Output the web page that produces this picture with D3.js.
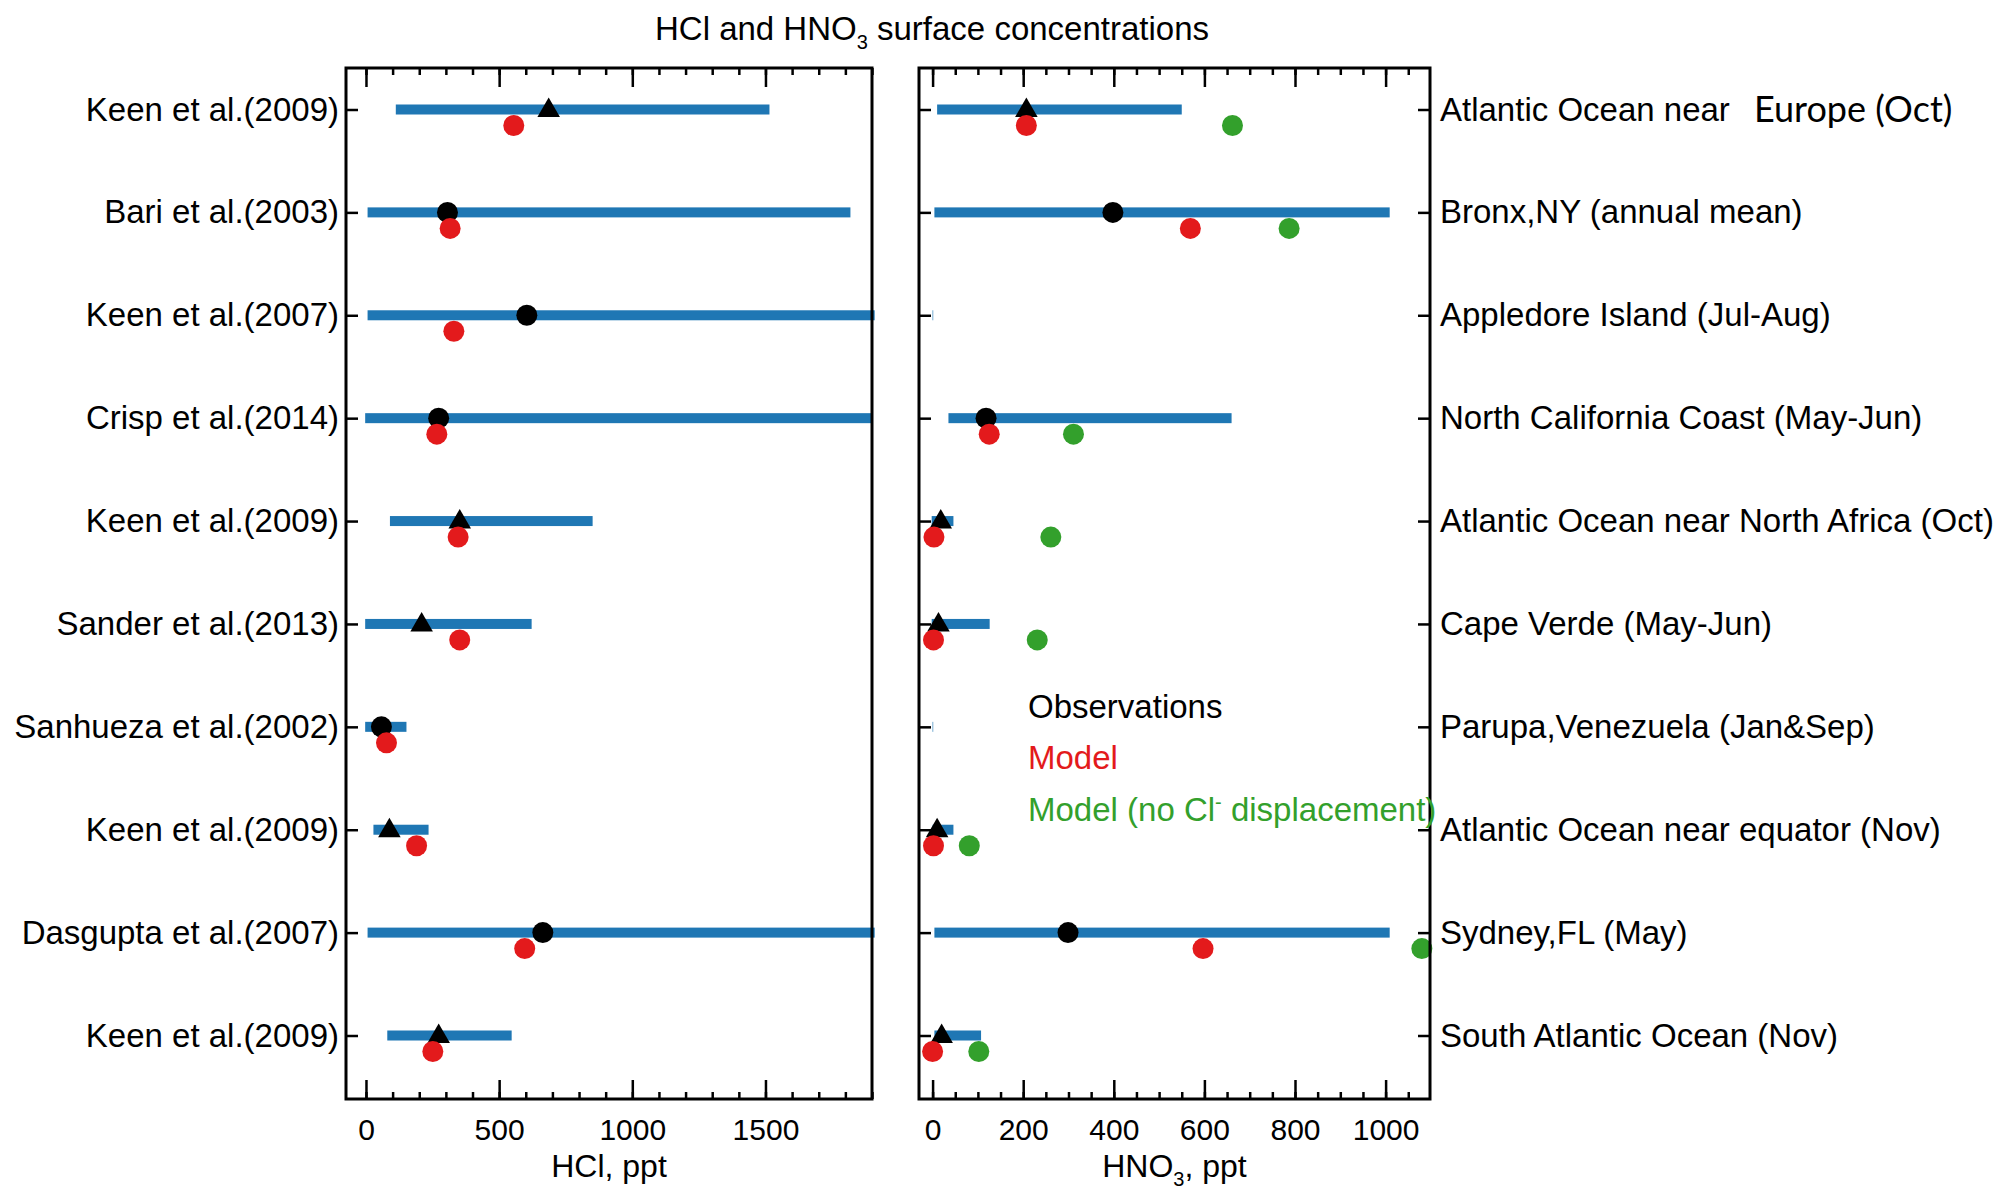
<!DOCTYPE html>
<html>
<head>
<meta charset="utf-8">
<script src="https://cdn.jsdelivr.net/npm/d3@7"></script>
<style>
  body { margin: 0; background: #fff; }
  text { font-family: "Liberation Sans", Arial, sans-serif; }
</style>
</head>
<body>
<svg id="chart" width="1997" height="1189"></svg>
<script>
// row labels
const leftLabels = ["Keen et al.(2009)", "Bari et al.(2003)", "Keen et al.(2007)", "Crisp et al.(2014)",
    "Keen et al.(2009)", "Sander et al.(2013)", "Sanhueza et al.(2002)", "Keen et al.(2009)",
    "Dasgupta et al.(2007)", "Keen et al.(2009)"];
const rightLabels = ["Atlantic Ocean near", "Bronx,NY (annual mean)", "Appledore Island (Jul-Aug)",
    "North California Coast (May-Jun)", "Atlantic Ocean near North Africa (Oct)", "Cape Verde (May-Jun)",
    "Parupa,Venezuela (Jan&Sep)", "Atlantic Ocean near equator (Nov)", "Sydney,FL (May)",
    "South Atlantic Ocean (Nov)"];
const extraLabel = "Europe (Oct)";
const obsShape = ["tri", "circle", "circle", "circle", "tri", "tri", "circle", "tri", "circle", "tri"];

// HCl, ppt
const hclLow = [112, 6, 6, -3, 90, -3, -3, 28, 6, 80];
const hclHigh = [1515, 1819, 1910, 1900, 851, 622, 152, 235, 1910, 547];
const hclObs = [686, 306, 604, 273, 352, 209, 58, 88, 664, 273];
const hclModel = [555, 316, 330, 266, 346, 352, 77, 190, 596, 251];

// HNO3, ppt
const hnoLow = [10, 4, 0, 35, -2, -2, 0, 0, 4, 4];
const hnoHigh = [550, 1009, 1, 660, 46, 126, 1, 46, 1009, 107];
const hnoObs = [207, 398, null, 118, 18, 13, null, 10, 299, 20];
const hnoModel = [207, 569, null, 125, 3, 2, null, 2, 597, 0];
const hnoNoDisp = [662, 787, null, 311, 261, 231, null, 81, 1080, 102];

const hclTicks = [0, 500, 1000, 1500];
const hclMinor = d3.range(0, 1901, 100);
const hnoTicks = [0, 200, 400, 600, 800, 1000];
const hnoMinor = d3.range(0, 1099, 50);

const blue = '#1f77b4', red = '#e31a1c', green = '#33a02c';

const svg = d3.select('#chart');
const plotTop = 68, plotBottom = 1099;

const y = d3.scalePoint().domain(d3.range(10)).range([109.5, 1035.5]);
const xL = d3.scaleLinear().domain([-75, 1900]).range([346, 872]);
const xR = d3.scaleLinear().domain([-30, 1098]).range([919, 1430]);

function drawXAxes(x, major, minor) {
    const g = svg.append('g');
    // minor ticks
    g.append('g').attr('transform', `translate(0,${plotBottom})`)
        .call(d3.axisBottom(x).tickValues(minor).tickSize(-7).tickFormat(''));
    g.append('g').attr('transform', `translate(0,${plotTop})`)
        .call(d3.axisTop(x).tickValues(minor).tickSize(-7).tickFormat(''));
    // major ticks
    g.append('g').attr('transform', `translate(0,${plotBottom})`)
        .call(d3.axisBottom(x).tickValues(major).tickSize(-19).tickPadding(20).tickFormat(d3.format('d')))
        .call(a => a.selectAll('text').attr('font-size', 30).attr('fill', '#000')
            .style('font-family', '"Liberation Sans", Arial, sans-serif'));
    g.append('g').attr('transform', `translate(0,${plotTop})`)
        .call(d3.axisTop(x).tickValues(major).tickSize(-19).tickFormat(''));
    g.selectAll('.domain').remove();
    g.selectAll('.tick line').attr('stroke', '#000').attr('stroke-width', 2.5);
    return g;
}

function drawBars(x, lo, hi) {
    svg.append('g').selectAll('rect')
        .data(d3.range(10).filter(i => lo[i] !== null))
        .enter().append('rect')
        .attr('x', i => x(lo[i]))
        .attr('y', i => y(i) - 5)
        .attr('width', i => Math.max(0.6, x(hi[i]) - x(lo[i])))
        .attr('height', 10)
        .attr('fill', blue);
}

function drawObs(x, vals) {
    const g = svg.append('g');
    const idx = d3.range(10).filter(i => vals[i] !== null);
    g.selectAll('circle').data(idx.filter(i => obsShape[i] === 'circle'))
        .enter().append('circle')
        .attr('cx', i => x(vals[i])).attr('cy', i => y(i)).attr('r', 10.5)
        .attr('fill', '#000');
    const tri = d3.symbol().type(d3.symbolTriangle).size(220);
    g.selectAll('path').data(idx.filter(i => obsShape[i] === 'tri'))
        .enter().append('path')
        .attr('d', tri)
        .attr('transform', i => `translate(${x(vals[i])},${y(i) + 1})`)
        .attr('fill', '#000');
}

function drawModel(x, vals, color) {
    svg.append('g').selectAll('circle')
        .data(d3.range(10).filter(i => vals[i] !== null))
        .enter().append('circle')
        .attr('cx', i => x(vals[i])).attr('cy', i => y(i) + 16).attr('r', 10.5)
        .attr('fill', color);
}

// left panel: HCl
drawXAxes(xL, hclTicks, hclMinor);
drawBars(xL, hclLow, hclHigh);
drawObs(xL, hclObs);
drawModel(xL, hclModel, red);

const yl = svg.append('g').attr('transform', `translate(${xL.range()[0]},0)`)
    .call(d3.axisLeft(y).tickSize(-12).tickPadding(7).tickFormat(i => leftLabels[i]));

// right panel: HNO3
drawXAxes(xR, hnoTicks, hnoMinor);
drawBars(xR, hnoLow, hnoHigh);
drawObs(xR, hnoObs);
drawModel(xR, hnoModel, red);
drawModel(xR, hnoNoDisp, green);

const yr1 = svg.append('g').attr('transform', `translate(${xR.range()[0]},0)`)
    .call(d3.axisLeft(y).tickSize(-12).tickFormat(''));
const yr2 = svg.append('g').attr('transform', `translate(${xR.range()[1]},0)`)
    .call(d3.axisRight(y).tickSize(-12).tickPadding(10).tickFormat(i => rightLabels[i]));

[yl, yr1, yr2].forEach(g => {
    g.select('.domain').remove();
    g.selectAll('.tick line').attr('stroke', '#000').attr('stroke-width', 2.5);
    g.selectAll('text').attr('font-size', 33).attr('fill', '#000')
        .style('font-family', '"Liberation Sans", Arial, sans-serif');
});

svg.append('text')
    .attr('x', 1754).attr('y', y(0)).attr('dy', '0.35em')
    .style('font-family', 'Lato, "Open Sans", sans-serif')
    .attr('font-size', 36)
    .text(extraLabel);

// panel frames
[xL, xR].forEach(x => {
    const [x0, x1] = x.range();
    svg.append('rect').attr('x', x0).attr('y', plotTop)
        .attr('width', x1 - x0).attr('height', plotBottom - plotTop)
        .attr('fill', 'none').attr('stroke', '#000').attr('stroke-width', 3);
});

// title
const title = svg.append('text').attr('x', 932).attr('y', 40)
    .attr('text-anchor', 'middle').attr('font-size', 33);
title.append('tspan').text('HCl and HNO');
title.append('tspan').attr('font-size', 20).attr('dy', 9).text('3');
title.append('tspan').attr('dy', -9).text(' surface concentrations');

// axis titles
svg.append('text').attr('x', d3.mean(xL.range())).attr('y', 1177)
    .attr('text-anchor', 'middle').attr('font-size', 32).text('HCl, ppt');
const xt = svg.append('text').attr('x', d3.mean(xR.range())).attr('y', 1177)
    .attr('text-anchor', 'middle').attr('font-size', 32);
xt.append('tspan').text('HNO');
xt.append('tspan').attr('font-size', 20).attr('dy', 9).text('3');
xt.append('tspan').attr('dy', -9).text(', ppt');

// legend
const legendNames = ['Observations', 'Model', 'Model (no Cl'];
const legendColors = ['#000', red, green];
const legendY = [706, 757, 809];
legendNames.forEach((name, i) => {
    const t = svg.append('text').attr('x', 1028).attr('y', legendY[i]).attr('dy', '0.35em')
        .attr('font-size', 33).attr('fill', legendColors[i]).text(name);
    if (i === 2) {
        t.append('tspan').attr('font-size', 20).attr('dy', -12).text('-');
        t.append('tspan').attr('dy', 12).text(' displacement)');
    }
});
</script>
</body>
</html>
